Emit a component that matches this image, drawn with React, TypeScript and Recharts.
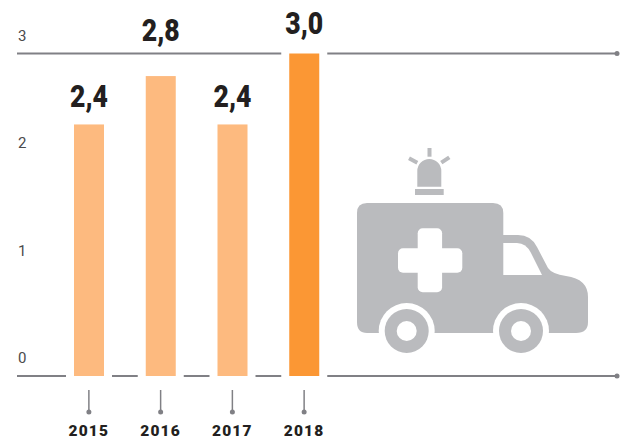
import { BarChart, Bar, XAxis, YAxis, CartesianGrid, LabelList } from 'recharts'

const years = ['2015', '2016', '2017', '2018']
// bar heights as drawn, the printed labels don't quite agree with them
const barValues = [2.34, 2.79, 2.34, 3]
const barLabels = ['2,4', '2,8', '2,4', '3,0']
const barColors = ['#fdba7f', '#fdba7f', '#fdba7f', '#fb9734']
const yTicks = [0, 1, 2, 3]
const ruleValues = [0, 3]

const data = years.map((year, i) => ({ year, value: barValues[i], label: barLabels[i], color: barColors[i] }))

const ruleColor = '#808085'
const iconColor = '#babbbe'
const textColor = '#231f20'

function BarWithHalo(props: any) {
  const { x, y, width, height, payload } = props
  return (
    <g>
      <rect x={x - 8} y={y - 8} width={width + 16} height={height + 16} fill="#fff" />
      <rect x={x} y={y} width={width} height={height} fill={payload.color} />
    </g>
  )
}

function ValueLabel(props: any) {
  const { x, y, width, index } = props
  // 2,8 sits above the rule, 3,0 a bit higher than the others
  const lift = index === 1 ? 35 : index === 3 ? 20 : 17
  return (
    <text
      x={x + width / 2}
      y={y - lift}
      textAnchor="middle"
      textLength={38}
      lengthAdjust="spacingAndGlyphs"
      fontFamily="Roboto, sans-serif"
      fontWeight={900}
      fontSize={32}
      fill={textColor}
    >
      {barLabels[index]}
    </text>
  )
}

function YearTick(props: any) {
  const { x, y, payload } = props
  return (
    <g>
      <line x1={x} x2={x} y1={y + 12} y2={y + 33} stroke={ruleColor} strokeWidth={1.5} />
      <circle cx={x} cy={y + 34} r={2.5} fill={ruleColor} />
      <text
        x={x}
        y={y + 57.5}
        textAnchor="middle"
        fontFamily="Roboto, sans-serif"
        fontWeight={900}
        fontSize={15.5}
        letterSpacing={1.2}
        fill={textColor}
      >
        {payload.value}
      </text>
    </g>
  )
}

function ValueTick(props: any) {
  const { y, payload } = props
  return (
    <text x={18} y={y - 13} fontFamily="Roboto, sans-serif" fontWeight={400} fontSize={15} fill="#4a4a4c">
      {payload.value}
    </text>
  )
}

function Rule(props: any) {
  const { x1, x2, y1, y2 } = props
  return (
    <g>
      <line x1={x1} x2={x2} y1={y1} y2={y2} stroke={ruleColor} strokeWidth={2} />
      <circle cx={x2} cy={y2} r={2.5} fill={ruleColor} />
    </g>
  )
}

function Ambulance() {
  return (
    <g fill={iconColor}>
      <path d="M367 203 H493 Q503.3 203 503.3 213 V235 H518 Q531 235 537 247 L548 268 Q552 274 566 276 Q588 279 588 297 V322 Q588 333 576 333 H367 Q357 333 357 322 V213 Q357 203 367 203 Z" />
      <path d="M503.3 243 H517 Q526 243 531 253 L542 275 H503.3 Z" fill="#fff" />
      <rect x={417.7} y={228.3} width={24.4} height={64} rx={5} fill="#fff" />
      <rect x={398} y={248.3} width={64.3} height={24.4} rx={5} fill="#fff" />
      <circle cx={406.7} cy={331} r={28} fill="#fff" />
      <circle cx={521} cy={331} r={28} fill="#fff" />
      <rect x={378} y={333} width={172} height={22} fill="#fff" />
      <circle cx={406.7} cy={331} r={22} />
      <circle cx={521} cy={331} r={22} />
      <circle cx={406.7} cy={331} r={10} fill="#fff" />
      <circle cx={521} cy={331} r={10} fill="#fff" />
      <rect x={415} y={189} width={28.7} height={6} />
      <path d="M417.3 186.7 V171 A12 12 0 0 1 441.3 171 V186.7 Z" />
      <rect x={427.5} y={148} width={4} height={8.7} />
      <path d="M409 158.3 L417.3 162.7 M449.3 157.3 L441.3 162.7" stroke={iconColor} strokeWidth={4} fill="none" />
    </g>
  )
}

export default function App() {
  return (
    <div style={{ position: 'absolute', left: 0, top: 0 }}>
      <BarChart width={627} height={438} data={data} margin={{ top: 53.5, right: 10, bottom: 0, left: 16 }}>
        <CartesianGrid vertical={false} horizontal={<Rule />} horizontalValues={ruleValues} />
        <XAxis
          dataKey="year"
          height={62}
          interval={0}
          padding={{ left: 36, right: 277 }}
          axisLine={false}
          tickLine={false}
          tickSize={0}
          tick={<YearTick />}
        />
        <YAxis
          width={1}
          domain={[0, 3]}
          ticks={yTicks}
          axisLine={false}
          tickLine={false}
          tick={<ValueTick />}
        />
        <Bar dataKey="value" barSize={30} isAnimationActive={false} shape={<BarWithHalo />}>
          <LabelList dataKey="label" content={<ValueLabel />} />
        </Bar>
        <Ambulance />
      </BarChart>
    </div>
  )
}
